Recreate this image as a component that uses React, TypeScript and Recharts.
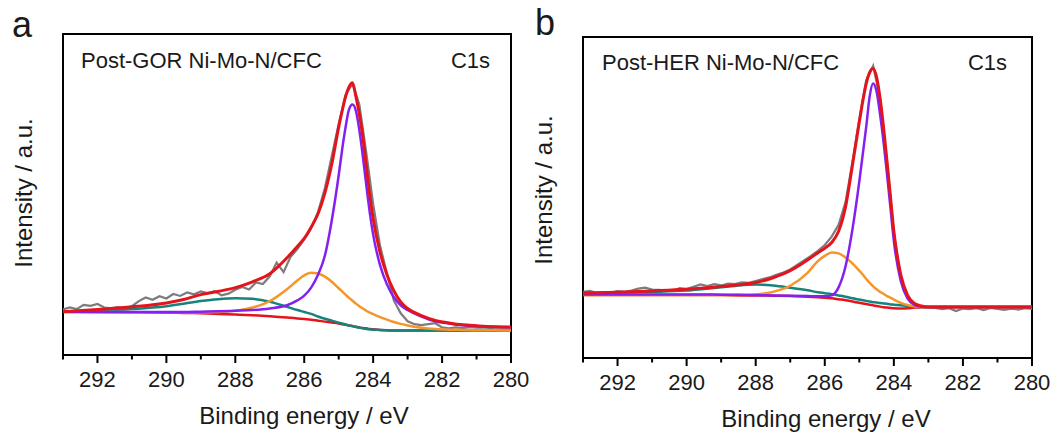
import React from 'react';
import { LineChart, Line, XAxis, YAxis, ReferenceArea } from 'recharts';

// binding energy grid used by the fitted components (eV)
const FIT_X = [293, 292, 291, 290, 289.5, 289, 288.5, 288, 287.5, 287, 286.5, 286.2, 286, 285.8, 285.6, 285.4, 285.2, 285, 284.9, 284.8, 284.7, 284.6, 284.5, 284.4, 284.3, 284.2, 284.1, 284, 283.8, 283.6, 283.4, 283.2, 283, 282.6, 282.2, 281.8, 281.4, 281, 280.5, 280];

// raw spectrum grid (eV)
const RAW_X = [293, 292.8, 292.6, 292.4, 292.2, 292, 291.8, 291.6, 291.4, 291.2, 291, 290.8, 290.6, 290.4, 290.2, 290, 289.8, 289.6, 289.4, 289.2, 289, 288.8, 288.6, 288.4, 288.2, 288, 287.8, 287.6, 287.4, 287.2, 287, 286.8, 286.6, 286.4, 286.2, 286, 285.8, 285.6, 285.4, 285.2, 285, 284.8, 284.6, 284.4, 284.2, 284, 283.8, 283.6, 283.4, 283.2, 283, 282.8, 282.6, 282.4, 282.2, 282, 281.8, 281.6, 281.4, 281.2, 281, 280.8, 280.6, 280.4, 280.2, 280];

const TICKS = [280, 281, 282, 283, 284, 285, 286, 287, 288, 289, 290, 291, 292, 293];

// panel a: Post-GOR
const A_RAW = [14.2, 14.8, 14.3, 15.6, 15.3, 15.9, 14.8, 14.5, 14.9, 14.4, 15.2, 16.8, 17.9, 17.2, 18.3, 17.6, 19.0, 18.4, 19.5, 18.9, 19.8, 19.2, 19.9, 18.6, 19.1, 20.3, 21.2, 20.4, 22.6, 22.1, 24.5, 28.8, 25.8, 30.5, 33.0, 36.0, 39.5, 44.5, 52.0, 62.0, 72.0, 81.0, 84.5, 78.0, 63.0, 47.0, 34.0, 25.5, 17.0, 13.0, 10.5, 9.6, 9.3, 9.6, 9.9, 8.6, 8.3, 8.6, 8.4, 8.7, 8.5, 8.6, 8.4, 8.6, 8.5, 8.5];
const A_BG = [13.5, 13.4, 13.3, 13.2, 13.1, 13.0, 12.8, 12.6, 12.4, 12.1, 11.7, 11.4, 11.2, 11.0, 10.7, 10.4, 10.1, 9.8, 9.6, 9.4, 9.2, 9.0, 8.8, 8.6, 8.4, 8.3, 8.1, 8.0, 7.8, 7.7, 7.6, 7.6, 7.6, 7.6, 7.6, 7.6, 7.6, 7.6, 7.6, 7.6];
const A_TEAL = [13.5, 13.8, 14.3, 15.2, 16.0, 16.8, 17.4, 17.7, 17.5, 16.6, 15.0, 14.0, 13.4, 12.8, 12.0, 11.3, 10.7, 10.1, 9.8, 9.5, 9.2, 9.0, 8.7, 8.5, 8.3, 8.1, 8.0, 7.9, 7.8, 7.7, 7.6, 7.6, 7.6, 7.6, 7.6, 7.6, 7.6, 7.6, 7.6, 7.6];
const A_ORANGE = [13.5, 13.4, 13.3, 13.3, 13.3, 13.3, 13.4, 13.8, 14.8, 16.8, 20.5, 23.2, 24.8, 25.6, 25.4, 24.4, 22.8, 20.8, 19.8, 18.8, 17.8, 16.9, 16.0, 15.2, 14.5, 13.8, 13.2, 12.7, 11.8, 11.0, 10.3, 9.7, 9.2, 8.5, 8.1, 7.9, 7.8, 7.7, 7.7, 7.6];
const A_PURPLE = [13.4, 13.4, 13.4, 13.4, 13.4, 13.5, 13.6, 13.8, 14.0, 14.5, 15.5, 17.0, 18.5, 21.0, 25.0, 31.0, 42.0, 56.0, 64.0, 71.0, 76.5, 78.0, 76.0, 70.0, 62.0, 53.0, 44.5, 37.5, 28.0, 22.0, 18.0, 15.5, 14.0, 12.0, 10.5, 9.8, 9.3, 9.0, 8.8, 8.6];
const A_TOTAL = [13.5, 14.2, 15.0, 16.2, 17.3, 18.8, 19.8, 21.0, 22.8, 25.3, 30.3, 33.8, 36.3, 39.8, 44.0, 50.5, 59.5, 71.0, 76.0, 80.5, 83.5, 84.8, 80.5, 75.0, 68.0, 59.0, 50.0, 42.5, 32.0, 25.0, 20.0, 16.5, 14.5, 12.3, 10.8, 10.0, 9.4, 9.1, 8.8, 8.7];

// panel b: Post-HER
const B_RAW = [20.6, 20.9, 20.2, 20.5, 20.4, 20.8, 20.6, 21.0, 21.6, 21.9, 21.3, 21.2, 21.0, 20.9, 21.8, 21.5, 22.2, 22.9, 22.4, 23.0, 22.6, 23.2, 23.0, 23.6, 23.4, 24.0, 24.6, 25.1, 25.9, 26.6, 27.6, 29.0, 30.4, 31.8, 33.4, 35.2, 37.8, 41.5, 48.5, 61.0, 74.5, 86.5, 91.0, 81.0, 61.0, 39.0, 25.0, 18.8, 16.5, 16.0, 15.8, 15.6, 15.2, 15.5, 14.6, 15.4, 15.2, 15.5, 14.9, 15.6, 15.3, 15.0, 15.4, 15.1, 15.5, 15.3];
const B_BG = [19.6, 19.6, 19.6, 19.6, 19.6, 19.6, 19.5, 19.5, 19.4, 19.3, 19.1, 18.9, 18.8, 18.6, 18.3, 18.0, 17.6, 17.2, 17.0, 16.8, 16.6, 16.4, 16.2, 16.0, 15.8, 15.7, 15.6, 15.5, 15.4, 15.5, 15.7, 15.8, 15.9, 15.9, 15.9, 15.9, 15.9, 15.9, 15.9, 15.9];
const B_TEAL = [20.3, 20.4, 20.6, 21.0, 21.5, 22.0, 22.6, 22.9, 22.6, 21.9, 21.1, 20.5, 20.2, 19.9, 19.5, 19.1, 18.6, 18.2, 18.0, 17.8, 17.6, 17.4, 17.3, 17.1, 17.0, 16.9, 16.7, 16.6, 16.4, 16.2, 16.0, 15.9, 15.9, 15.9, 15.9, 15.9, 15.9, 15.9, 15.9, 15.9];
const B_ORANGE = [19.6, 19.6, 19.6, 19.6, 19.6, 19.6, 19.6, 19.8, 20.6, 22.5, 26.5, 30.2, 31.8, 32.9, 32.6, 31.3, 29.5, 27.2, 26.0, 24.6, 23.4, 22.3, 21.4, 20.6, 20.0, 19.3, 18.8, 18.2, 17.2, 16.5, 16.1, 15.9, 15.9, 15.9, 15.9, 15.9, 15.9, 15.9, 15.9, 15.9];
const B_PURPLE = [19.8, 19.8, 19.8, 19.8, 19.8, 19.7, 19.7, 19.6, 19.5, 19.4, 19.3, 19.2, 19.2, 19.5, 22.0, 28.5, 40.0, 55.0, 63.5, 72.0, 81.5, 85.5, 83.0, 76.0, 67.5, 57.5, 47.0, 36.5, 24.0, 18.5, 16.5, 16.0, 15.9, 15.9, 15.9, 15.9, 15.9, 15.9, 15.9, 15.9];
const B_TOTAL = [20.2, 20.5, 20.9, 21.4, 21.8, 22.3, 22.8, 23.5, 25.0, 27.2, 30.5, 32.8, 34.2, 36.0, 39.5, 47.0, 60.0, 73.5, 80.0, 85.5, 89.0, 90.2, 87.5, 81.0, 72.0, 61.5, 50.5, 39.5, 26.0, 19.5, 17.0, 16.2, 15.9, 15.9, 15.9, 15.9, 15.9, 15.9, 15.9, 15.9];

const COLORS = {
  raw: '#7c7c7c',
  bg: '#e3141c',
  teal: '#16837c',
  orange: '#f4962a',
  purple: '#8420f0',
  total: '#e3141c'
};

const FONT = '"Liberation Sans", Arial, sans-serif';

const EnergyTick = (props: any) => {
  const { x, y, payload } = props;
  const major = payload.value % 2 === 0;
  return (
    <g>
      <line x1={x} x2={x} y1={y} y2={y + (major ? 8 : 4.5)} stroke="#000" strokeWidth={2} />
      {major && (
        <text x={x} y={y + 32} textAnchor="middle" fontSize={22} fontFamily={FONT} fill="#1a1a1a">
          {payload.value}
        </text>
      )}
    </g>
  );
};

interface PanelProps {
  left: number;
  width: number;
  margin: { top: number; right: number; bottom: number; left: number };
  raw: number[];
  bg: number[];
  teal: number[];
  orange: number[];
  purple: number[];
  total: number[];
}

const XpsPanel: React.FC<PanelProps> = ({ left, width, margin, raw, bg, teal, orange, purple, total }) => {
  const fitData = FIT_X.map((x, i) => ({
    x,
    bg: bg[i],
    teal: teal[i],
    orange: orange[i],
    purple: purple[i],
    total: total[i]
  }));
  const rawData = RAW_X.map((x, i) => ({ x, raw: raw[i] }));

  return (
    <div style={{ position: 'absolute', left, top: 0 }}>
      <LineChart width={width} height={434} data={fitData} margin={margin}>
        <XAxis
          dataKey="x"
          type="number"
          domain={[280, 293]}
          reversed
          allowDataOverflow
          ticks={TICKS}
          interval={0}
          height={30}
          tickSize={0}
          tickMargin={0}
          tickLine={false}
          tick={<EnergyTick />}
          axisLine={{ stroke: '#000', strokeWidth: 2 }}
        />
        <YAxis
          type="number"
          domain={[0, 100]}
          allowDataOverflow
          width={0}
          tick={false}
          tickLine={false}
          axisLine={{ stroke: '#000', strokeWidth: 2 }}
        />
        {/* closed plot frame */}
        <ReferenceArea x1={293} x2={280} y1={0} y2={100} fill="none" stroke="#000" strokeWidth={2} />
        <Line data={rawData} dataKey="raw" type="linear" stroke={COLORS.raw} strokeWidth={2.2} dot={false} activeDot={false} isAnimationActive={false} />
        <Line dataKey="bg" type="monotone" stroke={COLORS.bg} strokeWidth={2.5} dot={false} activeDot={false} isAnimationActive={false} />
        <Line dataKey="teal" type="monotone" stroke={COLORS.teal} strokeWidth={2.5} dot={false} activeDot={false} isAnimationActive={false} />
        <Line dataKey="orange" type="monotone" stroke={COLORS.orange} strokeWidth={2.5} dot={false} activeDot={false} isAnimationActive={false} />
        <Line dataKey="purple" type="monotone" stroke={COLORS.purple} strokeWidth={2.5} dot={false} activeDot={false} isAnimationActive={false} />
        <Line dataKey="total" type="monotone" stroke={COLORS.total} strokeWidth={3} dot={false} activeDot={false} isAnimationActive={false} />
      </LineChart>
    </div>
  );
};

export default function App() {
  const textStyle = { fontFamily: FONT, fill: '#1a1a1a' };
  return (
    <div style={{ position: 'fixed', left: 0, top: 0, width: 1056, height: 434, background: '#fff', overflow: 'hidden' }}>
      <XpsPanel
        left={0}
        width={560}
        margin={{ top: 34, right: 49, bottom: 49, left: 63 }}
        raw={A_RAW}
        bg={A_BG}
        teal={A_TEAL}
        orange={A_ORANGE}
        purple={A_PURPLE}
        total={A_TOTAL}
      />
      <XpsPanel
        left={520}
        width={536}
        margin={{ top: 37, right: 24, bottom: 46, left: 63 }}
        raw={B_RAW}
        bg={B_BG}
        teal={B_TEAL}
        orange={B_ORANGE}
        purple={B_PURPLE}
        total={B_TOTAL}
      />
      <svg width={1056} height={434} style={{ position: 'absolute', left: 0, top: 0, pointerEvents: 'none' }}>
        <text x={12} y={37} fontSize={36} {...textStyle}>a</text>
        <text x={535} y={35} fontSize={36} {...textStyle}>b</text>

        <text x={81} y={68} fontSize={22} {...textStyle}>Post-GOR Ni-Mo-N/CFC</text>
        <text x={490} y={68} fontSize={22} textAnchor="end" {...textStyle}>C1s</text>
        <text x={602} y={70} fontSize={22} {...textStyle}>Post-HER Ni-Mo-N/CFC</text>
        <text x={1007} y={70} fontSize={22} textAnchor="end" {...textStyle}>C1s</text>

        <text x={304} y={424} fontSize={24} textAnchor="middle" {...textStyle}>Binding energy / eV</text>
        <text x={826} y={427} fontSize={24} textAnchor="middle" {...textStyle}>Binding energy / eV</text>

        <text x={23} y={193} fontSize={24} textAnchor="middle" dominantBaseline="central" transform="rotate(-90 23 193)" {...textStyle}>Intensity / a.u.</text>
        <text x={543} y={190} fontSize={24} textAnchor="middle" dominantBaseline="central" transform="rotate(-90 543 190)" {...textStyle}>Intensity / a.u.</text>
      </svg>
    </div>
  );
}
